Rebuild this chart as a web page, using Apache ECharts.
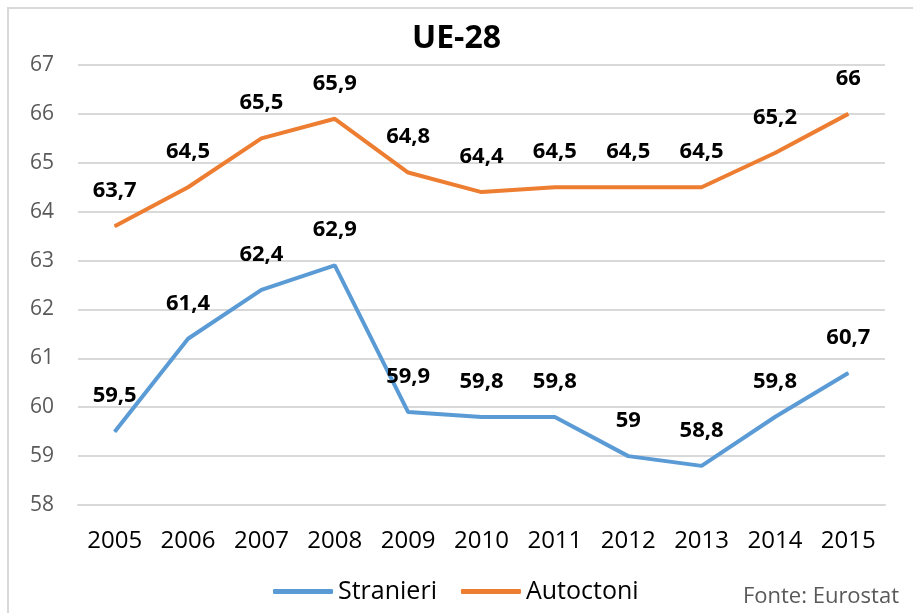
<!DOCTYPE html>
<html>
<head>
<meta charset="utf-8">
<script src="https://cdn.jsdelivr.net/npm/echarts@6/dist/echarts.min.js"></script>
<style>
  html, body { margin: 0; padding: 0; background: #fff; }
  #chart { width: 913px; height: 613px; }
</style>
</head>
<body>
<div id="chart"></div>
<script>
var anni = ['2005', '2006', '2007', '2008', '2009', '2010', '2011', '2012', '2013', '2014', '2015'];
var stranieri = [59.5, 61.4, 62.4, 62.9, 59.9, 59.8, 59.8, 59, 58.8, 59.8, 60.7];
var autoctoni = [63.7, 64.5, 65.5, 65.9, 64.8, 64.4, 64.5, 64.5, 64.5, 65.2, 66];

var font = '"Open Sans", "Liberation Sans", sans-serif';

function labelFmt(p) {
  return String(p.value).replace('.', ',');
}

var etichetta = {
  show: true, position: 'top', distance: 24,
  fontFamily: font, fontSize: 22, fontWeight: 'bold', color: '#000',
  formatter: labelFmt
};

var option = {
  animation: false,
  backgroundColor: '#fff',
  title: {
    text: 'UE-28',
    left: 'center',
    top: 18,
    textStyle: { fontFamily: font, fontSize: 32, fontWeight: 'bold', color: '#000' }
  },
  legend: {
    bottom: 4,
    left: 268,
    itemWidth: 60,
    itemHeight: 5,
    itemGap: 24,
    icon: 'roundRect',
    textStyle: { fontFamily: font, fontSize: 25, color: '#000' },
    data: ['Stranieri', 'Autoctoni']
  },
  grid: { left: 78, right: 28, top: 65, bottom: 108 },
  xAxis: {
    type: 'category',
    data: anni,
    axisLine: { lineStyle: { color: '#d9d9d9', width: 2 } },
    axisTick: { show: false },
    axisLabel: { interval: 0, fontFamily: font, fontSize: 24, color: '#000', margin: 24 }
  },
  yAxis: {
    type: 'value',
    min: 58,
    max: 67,
    interval: 1,
    axisLine: { show: false },
    axisTick: { show: false },
    axisLabel: { fontFamily: font, fontSize: 21, color: '#595959', margin: 24 },
    splitLine: { lineStyle: { color: '#d9d9d9', width: 2 } }
  },
  graphic: [
    {
      type: 'rect',
      shape: { x: 8, y: 8, width: 920, height: 620 },
      style: { fill: 'none', stroke: '#d9d9d9', lineWidth: 2 },
      silent: true
    },
    {
      type: 'text',
      right: 14,
      bottom: 5,
      style: { text: 'Fonte: Eurostat', fontFamily: font, fontSize: 22, fill: '#595959' }
    }
  ],
  series: [
    {
      name: 'Stranieri',
      type: 'line',
      data: stranieri,
      symbol: 'circle',
      symbolSize: 1,
      showAllSymbol: true,
      lineStyle: { color: '#5B9BD5', width: 4 },
      itemStyle: { color: '#5B9BD5' },
      label: etichetta
    },
    {
      name: 'Autoctoni',
      type: 'line',
      data: autoctoni,
      symbol: 'circle',
      symbolSize: 1,
      showAllSymbol: true,
      lineStyle: { color: '#ED7D31', width: 4 },
      itemStyle: { color: '#ED7D31' },
      label: etichetta
    }
  ]
};

var myChart = echarts.init(document.getElementById('chart'));
myChart.setOption(option);
</script>
</body>
</html>
